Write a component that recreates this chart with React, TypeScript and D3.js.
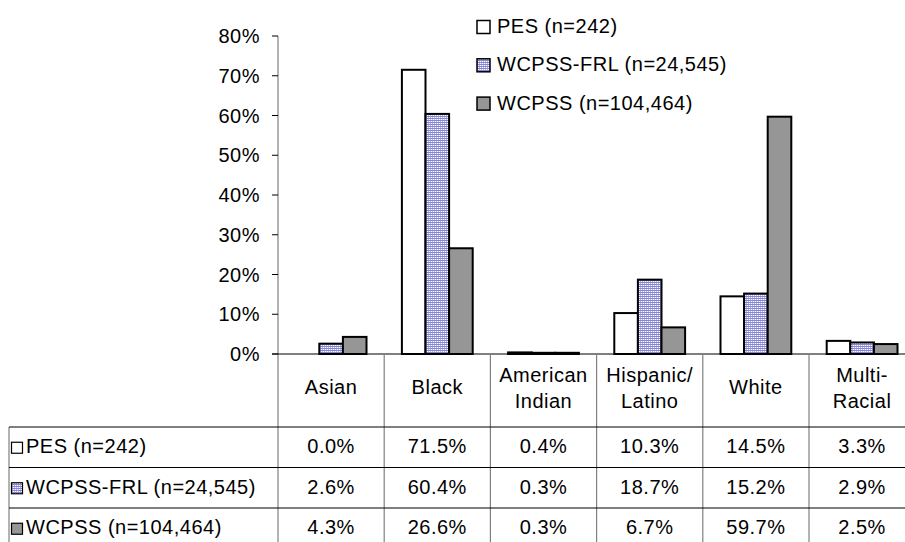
import React, { useEffect, useRef } from "react";
import * as d3 from "d3";

// categories (multi-line header labels)
const categories = [
  ["Asian"],
  ["Black"],
  ["American", "Indian"],
  ["Hispanic/", "Latino"],
  ["White"],
  ["Multi-", "Racial"],
];
const seriesNames = ["PES (n=242)", "WCPSS-FRL (n=24,545)", "WCPSS (n=104,464)"];
const pesValues = [0.0, 71.5, 0.4, 10.3, 14.5, 3.3];
const frlValues = [2.6, 60.4, 0.3, 18.7, 15.2, 2.9];
const wcpssValues = [4.3, 26.6, 0.3, 6.7, 59.7, 2.5];
const yTicks = [0, 10, 20, 30, 40, 50, 60, 70, 80];

const FONT = "'Liberation Sans', Arial, sans-serif";
const FS = 20;
const LS = 0.5;

export default function App() {
  const ref = useRef<SVGSVGElement>(null);

  useEffect(() => {
    const svg = d3.select(ref.current);
    svg.selectAll("*").remove();

    const W = 905,
      H = 542;
    const left = 278,
      colW = 106.2,
      zeroY = 354,
      topY = 36;
    const headerBottom = 427;
    const rowH = 40.5;

    const series = [pesValues, frlValues, wcpssValues];
    const fills = ["#ffffff", "url(#frl)", "#969696"];

    const txt = (sel: any) =>
      sel
        .attr("font-family", FONT)
        .attr("font-size", FS)
        .attr("letter-spacing", LS)
        .attr("fill", "#000");

    // pattern for FRL
    const defs = svg.append("defs");
    const pat = defs
      .append("pattern")
      .attr("id", "frl")
      .attr("patternUnits", "userSpaceOnUse")
      .attr("width", 2)
      .attr("height", 2);
    pat.append("rect").attr("width", 2).attr("height", 2).attr("fill", "#ffffff");
    pat.append("rect").attr("width", 2).attr("height", 1).attr("fill", "#8585d3");
    pat.append("rect").attr("y", 1).attr("width", 1).attr("height", 1).attr("fill", "#b4b4e6");

    const x = d3
      .scaleBand<number>()
      .domain(d3.range(categories.length))
      .range([left, left + colW * categories.length])
      .padding(0);
    const xs = d3
      .scaleBand<number>()
      .domain([0, 1, 2])
      .range([0, x.bandwidth()])
      .paddingInner(0)
      .paddingOuter(0.75);
    const y = d3.scaleLinear().domain([0, 80]).range([zeroY, topY]);

    // y axis
    svg
      .append("line")
      .attr("x1", left)
      .attr("x2", left)
      .attr("y1", topY)
      .attr("y2", headerBottom)
      .attr("stroke", "#808080")
      .attr("stroke-width", 1.2);
    const ticks = svg.append("g");
    ticks
      .selectAll("line")
      .data(yTicks)
      .join("line")
      .attr("x1", left - 6)
      .attr("x2", left)
      .attr("y1", (d) => y(d))
      .attr("y2", (d) => y(d))
      .attr("stroke", "#000");
    ticks
      .selectAll("text")
      .data(yTicks)
      .join("text")
      .attr("x", 260)
      .attr("y", (d) => y(d) + 7)
      .attr("text-anchor", "end")
      .call(txt)
      .text((d) => d + "%");

    // bars
    series.forEach((vals, si) => {
      svg
        .append("g")
        .selectAll("rect")
        .data(vals)
        .join("rect")
        .attr("x", (d, i) => x(i)! + xs(si)!)
        .attr("y", (d) => y(d))
        .attr("width", xs.bandwidth())
        .attr("height", (d) => zeroY - y(d))
        .attr("fill", fills[si])
        .attr("stroke", (d) => (d > 0 ? "#000" : "none"))
        .attr("stroke-width", 2);
    });

    // zero line
    svg
      .append("line")
      .attr("x1", left - 6)
      .attr("x2", W)
      .attr("y1", zeroY)
      .attr("y2", zeroY)
      .attr("stroke", "#000")
      .attr("stroke-width", 1.2);

    // table vertical lines
    const tbl = svg.append("g");
    tbl
      .selectAll("line.v")
      .data(d3.range(1, categories.length + 1))
      .join("line")
      .attr("class", "v")
      .attr("x1", (i) => left + colW * i)
      .attr("x2", (i) => left + colW * i)
      .attr("y1", zeroY)
      .attr("y2", H + 10)
      .attr("stroke", "#808080")
      .attr("stroke-width", 1.2);
    tbl
      .append("line")
      .attr("x1", left)
      .attr("x2", left)
      .attr("y1", headerBottom)
      .attr("y2", H + 10)
      .attr("stroke", "#808080")
      .attr("stroke-width", 1.2);
    tbl
      .append("line")
      .attr("x1", 9)
      .attr("x2", 9)
      .attr("y1", headerBottom)
      .attr("y2", H + 10)
      .attr("stroke", "#808080")
      .attr("stroke-width", 1.2);
    tbl
      .selectAll("line.h")
      .data([0, 1, 2])
      .join("line")
      .attr("class", "h")
      .attr("x1", 9)
      .attr("x2", W)
      .attr("y1", (i) => headerBottom + rowH * i)
      .attr("y2", (i) => headerBottom + rowH * i)
      .attr("stroke", "#000")
      .attr("stroke-width", 1.2);

    // header labels
    const headerMid = (zeroY + headerBottom) / 2;
    categories.forEach((lines, i) => {
      const cx = x(i)! + x.bandwidth() / 2;
      lines.forEach((ln, k) => {
        const off = (k - (lines.length - 1) / 2) * 26;
        svg
          .append("text")
          .attr("x", cx)
          .attr("y", headerMid + off + (lines.length > 1 ? 4 : 3))
          .attr("text-anchor", "middle")
          .call(txt)
          .text(ln);
      });
    });

    // table rows
    series.forEach((vals, si) => {
      const cy = headerBottom + rowH * si + rowH / 2;
      svg
        .append("rect")
        .attr("x", 11.5)
        .attr("y", cy - 5)
        .attr("width", 11)
        .attr("height", 11)
        .attr("fill", fills[si])
        .attr("stroke", "#000")
        .attr("stroke-width", 1.2);
      svg
        .append("text")
        .attr("x", 26)
        .attr("y", cy + 6)
        .call(txt)
        .text(seriesNames[si]);
      svg
        .append("g")
        .selectAll("text")
        .data(vals)
        .join("text")
        .attr("x", (d, i) => x(i)! + x.bandwidth() / 2)
        .attr("y", cy + 6)
        .attr("text-anchor", "middle")
        .call(txt)
        .text((d) => d.toFixed(1) + "%");
    });

    // legend
    const lg = svg.append("g").attr("transform", "translate(477, 0)");
    seriesNames.forEach((name, si) => {
      const cy = 27 + si * 38.3;
      lg.append("rect")
        .attr("x", 0)
        .attr("y", cy - 6.5)
        .attr("width", 13)
        .attr("height", 13)
        .attr("fill", fills[si])
        .attr("stroke", "#000")
        .attr("stroke-width", 1.5);
      lg.append("text")
        .attr("x", 20)
        .attr("y", cy + 6)
        .call(txt)
        .text(name);
    });
  }, []);

  return (
    <svg
      ref={ref}
      width={905}
      height={542}
      style={{ position: "absolute", left: 0, top: 0, background: "#fff" }}
    />
  );
}
